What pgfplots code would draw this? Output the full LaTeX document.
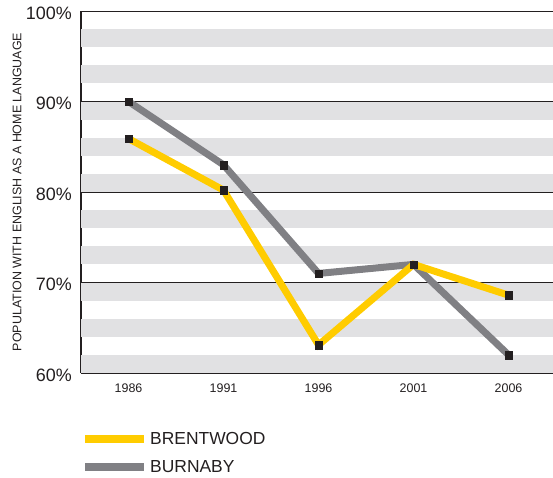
\documentclass[border=0pt]{standalone}
\usepackage{fontspec}
\setmainfont{Liberation Sans}
\usepackage{pgfplots}
\pgfplotsset{compat=1.18}
\definecolor{bandgray}{HTML}{E1E1E3}
\definecolor{ylw}{HTML}{FFCC00}
\definecolor{gry}{HTML}{808084}
\definecolor{txt}{HTML}{231F20}
\begin{document}
\begin{tikzpicture}
\path[use as bounding box] (0,0) rectangle (553bp,478bp);
\begin{axis}[
  at={(81bp,105bp)}, anchor=south west,
  scale only axis, width=472bp, height=362bp,
  xmin=-0.5, xmax=4.468, ymin=60, ymax=100,
  axis x line*=bottom, axis y line*=left,
  axis line style={txt, line width=1.2bp},
  xtick={0,1,2,3,4},
  xticklabels={1986,1991,1996,2001,2006},
  major x tick style={draw=none},
  minor xtick={0.5,1.5,2.5,3.5},
  minor x tick style={txt, line width=1bp},
  minor tick length=8bp,
  tick align=inside,
  ytick={60,70,80,90,100},
  yticklabel={\pgfmathprintnumber{\tick}\%},
  major y tick style={draw=none},
  /pgf/number format/assume math mode=true,
  yticklabel style={font=\fontsize{18}{20}\selectfont, text=txt, inner sep=0pt, anchor=east, xshift=-9bp, yshift=-2bp},
  xticklabel style={font=\fontsize{12.5}{14}\selectfont, text=txt, inner sep=0pt, anchor=north, yshift=-11bp},
  ylabel={POPULATION WITH ENGLISH AS A HOME LANGUAGE},
  ylabel style={font=\fontsize{12.5}{14}\selectfont, text=txt, at={(axis description cs:-0.1356,0.5)}, anchor=center},
  clip=false,
  legend style={at={(axis description cs:0,-0.162)}, anchor=north west, draw=none, fill=none,
    font=\fontsize{17.5}{19}\selectfont, text=txt, inner sep=0pt, row sep=15bp,
    nodes={inner sep=0pt}, column sep=2bp},
  legend cell align=left,
  legend image code/.code={\draw[line width=8bp] (-4bp,0bp) -- (55bp,0bp);},
]
\fill[bandgray] (axis cs:-0.5,60) rectangle (axis cs:4.468,62);
\fill[bandgray] (axis cs:-0.5,64) rectangle (axis cs:4.468,66);
\fill[bandgray] (axis cs:-0.5,68) rectangle (axis cs:4.468,70);
\fill[bandgray] (axis cs:-0.5,72) rectangle (axis cs:4.468,74);
\fill[bandgray] (axis cs:-0.5,76) rectangle (axis cs:4.468,78);
\fill[bandgray] (axis cs:-0.5,80) rectangle (axis cs:4.468,82);
\fill[bandgray] (axis cs:-0.5,84) rectangle (axis cs:4.468,86);
\fill[bandgray] (axis cs:-0.5,88) rectangle (axis cs:4.468,90);
\fill[bandgray] (axis cs:-0.5,92) rectangle (axis cs:4.468,94);
\fill[bandgray] (axis cs:-0.5,96) rectangle (axis cs:4.468,98);
\draw[txt, line width=0.9bp] (axis cs:-0.5,70) -- (axis cs:4.468,70);
\draw[txt, line width=0.9bp] (axis cs:-0.5,80) -- (axis cs:4.468,80);
\draw[txt, line width=0.9bp] (axis cs:-0.5,90) -- (axis cs:4.468,90);
\draw[txt, line width=0.9bp] (axis cs:-0.5,100) -- (axis cs:4.468,100);
% Burnaby
\addplot[gry, line width=7bp, mark=square*, mark size=3.8bp,
  mark options={fill=txt, draw=txt, line width=0.1bp}, forget plot]
  coordinates {(0,90) (1,83) (2,71) (3,72) (4,62)};
% Brentwood
\addplot[ylw, line width=7bp, mark=square*, mark size=3.8bp,
  mark options={fill=txt, draw=txt, line width=0.1bp}, forget plot]
  coordinates {(0,85.9) (1,80.2) (2,63.1) (3,72) (4,68.6)};
\addlegendimage{ylw}
\addlegendentry{BRENTWOOD}
\addlegendimage{gry}
\addlegendentry{BURNABY}
\end{axis}
\end{tikzpicture}
\end{document}
